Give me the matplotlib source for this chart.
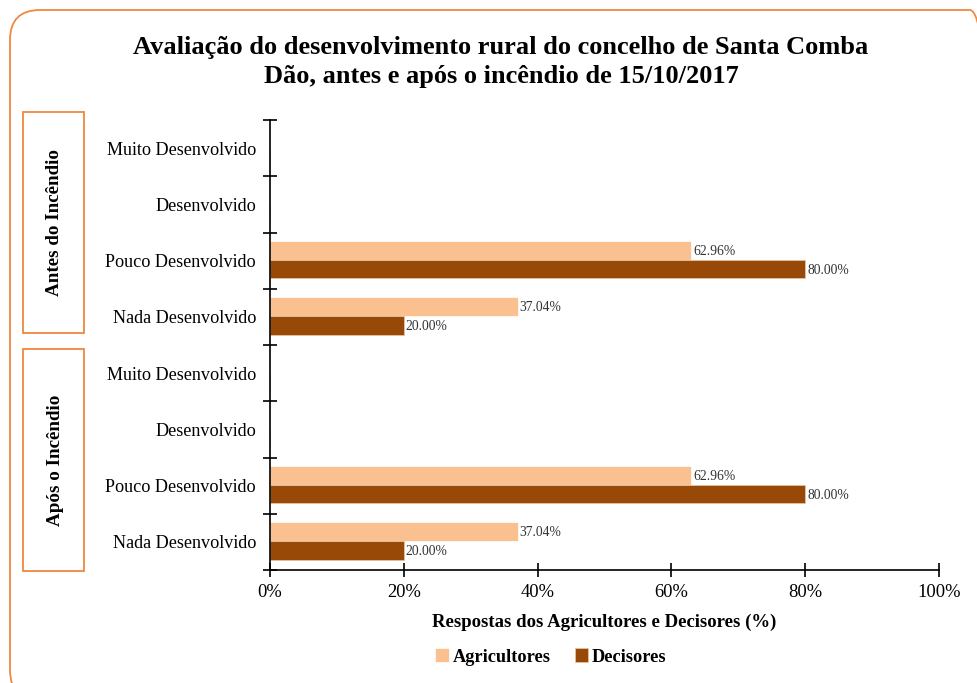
import matplotlib
matplotlib.use("Agg")
from matplotlib import pyplot as plt
from matplotlib.patches import FancyBboxPatch, Rectangle
from matplotlib.ticker import PercentFormatter
from matplotlib.transforms import IdentityTransform
import numpy as np

plt.rcParams['font.family'] = ['Liberation Serif', 'DejaVu Serif']

niveis = ['Muito Desenvolvido', 'Desenvolvido', 'Pouco Desenvolvido', 'Nada Desenvolvido']
periodos = ['Antes do Incêndio', 'Após o Incêndio']
agricultores = [0, 0, 62.96, 37.04, 0, 0, 62.96, 37.04]
decisores = [0, 0, 80.00, 20.00, 0, 0, 80.00, 20.00]
xticks = [0, 20, 40, 60, 80, 100]

cor_agr = '#FAC090'
cor_dec = '#984807'
laranja = '#F0883E'

W, H = 977, 683
fig = plt.figure(figsize=(W / 100, H / 100), dpi=100)

# moldura arredondada (em pixels)
moldura = FancyBboxPatch((10, H - 700), 990, 690,
                         boxstyle="round,pad=0,rounding_size=30",
                         transform=IdentityTransform(), fill=False,
                         edgecolor=laranja, linewidth=1.3, zorder=0)
fig.patches.append(moldura)

ax = fig.add_axes([270 / W, 1 - 570 / H, 669 / W, 450 / H])

labels = niveis * 2
n = len(labels)
y = np.arange(n)
h = 0.335

ax.barh(y - h / 2 - 0.02, agricultores, height=h, color=cor_agr, label='Agricultores',
        edgecolor='white', linewidth=0.5)
ax.barh(y + h / 2 - 0.02, decisores, height=h, color=cor_dec, label='Decisores',
        edgecolor='#E8C8A8', linewidth=0.5)

for i in range(n):
    if agricultores[i] > 0:
        ax.text(agricultores[i] + 0.3, y[i] - h / 2, f'{agricultores[i]:.2f}%',
                va='center', ha='left', fontsize=9.8, color='#333333')
    if decisores[i] > 0:
        ax.text(decisores[i] + 0.3, y[i] + h / 2, f'{decisores[i]:.2f}%',
                va='center', ha='left', fontsize=9.8, color='#333333')

ax.set_ylim(n - 0.5, -0.5)
ax.set_xlim(0, 100)
ax.set_yticks(y)
ax.set_yticklabels(labels, fontsize=13.1)
ax.set_yticks(np.arange(n + 1) - 0.5, minor=True)
ax.tick_params(axis='y', which='major', length=0, pad=10)
ax.tick_params(axis='y', which='minor', direction='inout', length=10, width=1.2)
ax.set_xticks(xticks)
ax.xaxis.set_major_formatter(PercentFormatter(decimals=0))
ax.tick_params(axis='x', direction='inout', length=10, width=1.2, labelsize=13.3, pad=5)
for s in ['top', 'right']:
    ax.spines[s].set_visible(False)
for s in ['left', 'bottom']:
    ax.spines[s].set_linewidth(1.2)

ax.set_xlabel('Respostas dos Agricultores e Decisores (%)', fontsize=13.5,
              fontweight='bold', labelpad=9)

fig.text(501 / W, 1 - 62 / H,
         'Avaliação do desenvolvimento rural do concelho de Santa Comba\nDão, antes e após o incêndio de 15/10/2017',
         ha='center', va='center', fontsize=19, fontweight='bold', linespacing=1.32)

# caixas dos períodos
caixas = [(112, 333), (349, 571)]
for nome, (topo, base) in zip(periodos, caixas):
    fig.patches.append(Rectangle((23 / W, 1 - base / H), 61 / W, (base - topo) / H,
                                 transform=fig.transFigure, fill=False,
                                 edgecolor=laranja, linewidth=1.3))
    fig.text(55 / W, 1 - (topo + base) / 2 / H, nome, rotation=90,
             ha='center', va='center', fontsize=13.7, fontweight='bold')

ax.legend(loc='center', bbox_to_anchor=(551 / W, 1 - 657 / H), bbox_transform=fig.transFigure,
          ncol=2, frameon=False, handlelength=0.75, handleheight=0.75, handletextpad=0.2,
          columnspacing=1.3, prop={'weight': 'bold', 'size': 13.2})

fig.savefig('out.png', dpi=100)
